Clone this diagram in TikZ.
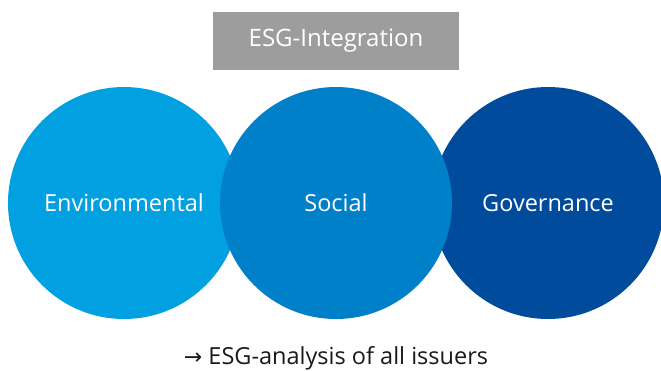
\documentclass[tikz,border=0pt]{standalone}
\usepackage{fontspec}
\setmainfont{Open Sans}
\newfontfamily\arrowfont{DejaVu Sans}
\definecolor{envblue}{HTML}{00A0E1}
\definecolor{socblue}{HTML}{0080C8}
\definecolor{govblue}{HTML}{004B9B}
\definecolor{boxgray}{HTML}{9D9D9D}
\definecolor{txtdark}{HTML}{1A1A1A}
\tikzset{
  pillar/.style={circle, minimum size=232pt, inner sep=0pt, text=white, font=\fontsize{23.5}{26}\selectfont},
  headbox/.style={fill=boxgray, minimum width=246pt, minimum height=58pt, inner sep=0pt, text=white, font=\fontsize{24}{27}\selectfont},
  foot/.style={text=txtdark, inner sep=0pt, font=\fontsize{23.5}{26}\selectfont}
}
\begin{document}
\begin{tikzpicture}[x=1pt,y=-1pt]
\useasboundingbox (0,0) rectangle (661,370);
\node[headbox] (head) at (336,41) {ESG-Integration};
\node[pillar, fill=envblue] (env) at (124,203) {Environmental};
\node[pillar, fill=govblue] (gov) at (548,203) {Governance};
\node[pillar, fill=socblue] (soc) at (336,203) {Social};
\node[foot, anchor=base] (res) at (336,364) {{\arrowfont\fontsize{22}{24}\selectfont →} ESG-analysis of all issuers};
\end{tikzpicture}
\end{document}
